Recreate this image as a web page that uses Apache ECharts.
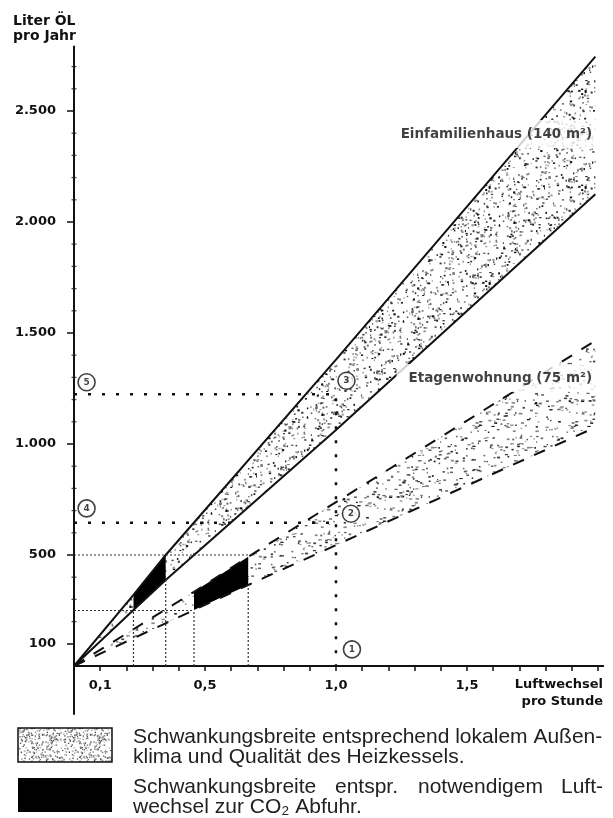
<!DOCTYPE html>
<html><head><meta charset="utf-8">
<script src="https://cdn.jsdelivr.net/npm/echarts@6/dist/echarts.min.js"></script>
<style>html,body{margin:0;padding:0;background:#fff}#c{width:613px;height:818px}</style>
</head><body><div id="c"></div>
<script>
// ---------- data ----------
const xTickValues = [0.1,0.2,0.3,0.4,0.5,0.6,0.7,0.8,0.9,1.0,1.1,1.2,1.3,1.4,1.5,1.6,1.7,1.8,1.9,2.0];
const xLabelValues = [0.1,0.5,1.0,1.5];
const yLabelValues = [100,500,1000,1500,2000,2500];
const yMinorTicks = [200,300,400,600,700,800,900,1100,1200,1300,1400,1600,1700,1800,1900,2100,2200,2300,2400,2600,2700];
// axis line extensions beyond the origin
const xAxisExtension = [[-0.21,0],[0,0]];
const yAxisExtension = [[0,-220],[0,0]];

// Einfamilienhaus (140 m²) band
const efhUpper = [[0,0],[0.227,320],[0.35,500],[1.0,1380],[1.99,2745]];
const efhLower = [[0,0],[0.227,252],[0.35,387],[1.0,1063],[1.99,2125]];
// Etagenwohnung (75 m²) band
const etwUpper = [[0,0],[0.458,334],[0.665,492],[1.99,1465]];
const etwLower = [[0,0],[0.458,252],[0.665,365],[1.99,1075]];
// CO2 ranges (black)
const efhBlack = [[0.227,252],[0.227,320],[0.35,500],[0.35,387]];
const etwBlack = [[0.458,252],[0.458,334],[0.665,492],[0.665,365]];
// reference lines
const refCoarse = [[[0,1224],[1.0,1224],[1.0,0]], [[0,645],[1.0,645]]];
const refFine = [[[0,500],[0.665,500]], [[0,250],[0.458,250]], [[0.227,0],[0.227,252]], [[0.35,0],[0.35,387]], [[0.458,0],[0.458,252]], [[0.665,0],[0.665,365]]];
// numbered markers
const markers = [[1.061,75,'1'],[1.057,686,'2'],[1.04,1285,'3'],[0.048,710,'4'],[0.048,1278,'5']];
// band labels
const bandLabels = [[2.008,2396,'Einfamilienhaus (140 m²)'],[2.008,1297,'Etagenwohnung (75 m²)']];

// ---------- textures ----------
function makeStipple(size, count, seed, colors, maxW, maxH) {
  const c = document.createElement('canvas');
  c.width = c.height = size;
  const ctx = c.getContext('2d');
  let s = seed;
  const nxt = () => (s = (s * 16807) % 2147483647) / 2147483647;
  for (let i = 0; i < count; i++) {
    const x = nxt() * size, y = nxt() * size;
    const w = 1 + nxt() * (maxW - 1), h = 1 + nxt() * (maxH - 1);
    ctx.fillStyle = colors[Math.floor(nxt() * colors.length)];
    ctx.fillRect(x, y, w, h);
    if (x + w > size) ctx.fillRect(x - size, y, w, h);
    if (y + h > size) ctx.fillRect(x, y - size, w, h);
  }
  return c;
}
const stippleDense = makeStipple(96, 470, 12345, ['#111','#333','#555','#777','#999'], 2.4, 2.2);
const stippleLight = makeStipple(96, 300, 777, ['#222','#444','#666','#888'], 3.4, 1.8);
const stippleLegend = makeStipple(48, 360, 4242, ['#444','#666','#888','#aaa'], 1.6, 1.6);

// ---------- series helpers ----------
function polySeries(points, fill, z) {
  return {
    type: 'custom', coordinateSystem: 'cartesian2d', z: z, silent: true, clip: true,
    data: [points[0]],
    renderItem: (params, api) => ({
      type: 'polygon',
      shape: { points: points.map(p => api.coord(p)) },
      style: { fill: fill, stroke: null }
    })
  };
}
function lineSeries(data, style, z, clip) {
  return { type: 'line', data: data, symbol: 'none', silent: true, z: z, lineStyle: style, animation: false, clip: clip !== false };
}

const series = [];
series.push(polySeries(efhUpper.concat(efhLower.slice().reverse()), { image: stippleDense, repeat: 'repeat' }, 1));
series.push(polySeries(etwUpper.concat(etwLower.slice().reverse()), { image: stippleLight, repeat: 'repeat' }, 1));
series.push(polySeries(efhBlack, '#000', 2));
series.push(polySeries(etwBlack, '#000', 2));
series.push(lineSeries(efhUpper, { color: '#111', width: 2 }, 3));
series.push(lineSeries(efhLower, { color: '#111', width: 2 }, 3));
series.push(lineSeries(etwUpper, { color: '#111', width: 2, type: [12, 11] }, 3));
series.push(lineSeries(etwLower, { color: '#111', width: 2, type: [12, 11] }, 3));
refCoarse.forEach(d => series.push(lineSeries(d, { color: '#111', width: 2.5, type: [3, 11] }, 4)));
refFine.forEach(d => series.push(lineSeries(d, { color: '#333', width: 1.2, type: [2, 2] }, 4)));
series.push(lineSeries(xAxisExtension, { color: '#111', width: 2 }, 5, false));
series.push(lineSeries(yAxisExtension, { color: '#111', width: 2 }, 5, false));
// minor y ticks
series.push({
  type: 'scatter', silent: true, z: 5, clip: false, symbol: 'rect', symbolSize: [5, 1.3],
  itemStyle: { color: '#222' },
  data: yMinorTicks.map(v => [0, v])
});
// band labels with white background
series.push({
  type: 'scatter', silent: true, z: 10, symbolSize: 0, clip: false,
  data: bandLabels.map(d => ({ value: [d[0], d[1]], name: d[2] })),
  label: {
    show: true, position: 'left', distance: 0, formatter: p => p.name,
    fontFamily: 'DejaVu Sans', fontWeight: 'bold', fontSize: 13.5, color: '#111',
    backgroundColor: '#fff', padding: [7, 8, 7, 12]
  }
});
// numbered circles
series.push({
  type: 'scatter', silent: true, z: 11, symbol: 'circle', symbolSize: 17, clip: false,
  itemStyle: { color: '#fff', borderColor: '#111', borderWidth: 1.6 },
  data: markers.map(m => ({ value: [m[0], m[1]], name: m[2] })),
  label: { show: true, position: 'inside', formatter: p => p.name, fontFamily: 'DejaVu Sans', fontWeight: 'bold', fontSize: 9, color: '#111' }
});

const fmtY = v => v >= 1000 ? (Math.floor(v / 1000) + '.' + String(v % 1000).padStart(3, '0')) : String(v);
const fmtX = v => v.toFixed(1).replace('.', ',');

const chart = echarts.init(document.getElementById('c'), null, { renderer: 'canvas' });
chart.setOption({
  animation: false,
  backgroundColor: '#fff',
  grid: { left: 74, right: 9.8, top: 46.6, bottom: 152, outerBoundsMode: 'none', containLabel: false },
  xAxis: {
    type: 'value', min: 0, max: 2.02,
    splitLine: { show: false },
    axisLine: { lineStyle: { color: '#111', width: 2 } },
    axisTick: { show: true, customValues: xTickValues, length: 5, lineStyle: { color: '#111', width: 1.5 } },
    axisLabel: { customValues: xLabelValues, formatter: fmtX, margin: 13, fontFamily: 'DejaVu Sans', fontWeight: 'bold', fontSize: 13, color: '#111' }
  },
  yAxis: {
    type: 'value', min: 0, max: 2790,
    splitLine: { show: false },
    axisLine: { lineStyle: { color: '#111', width: 2 } },
    axisTick: { show: true, customValues: yLabelValues, length: 7, lineStyle: { color: '#111', width: 1.5 } },
    axisLabel: { customValues: yLabelValues, formatter: fmtY, margin: 18, fontFamily: 'DejaVu Sans', fontWeight: 'bold', fontSize: 13, color: '#111' }
  },
  graphic: [
    { type: 'text', x: 13, y: 21, style: { text: 'Liter ÖL', font: 'bold 14px "DejaVu Sans"', fill: '#111', verticalAlign: 'middle', textVerticalAlign: 'middle' } },
    { type: 'text', x: 13, y: 36, style: { text: 'pro Jahr', font: 'bold 14px "DejaVu Sans"', fill: '#111', verticalAlign: 'middle', textVerticalAlign: 'middle' } },
    { type: 'text', x: 603, y: 685, style: { text: 'Luftwechsel', font: 'bold 13px "DejaVu Sans"', fill: '#111', align: 'right', textAlign: 'right', verticalAlign: 'middle', textVerticalAlign: 'middle' } },
    { type: 'text', x: 603, y: 702, style: { text: 'pro Stunde', font: 'bold 13px "DejaVu Sans"', fill: '#111', align: 'right', textAlign: 'right', verticalAlign: 'middle', textVerticalAlign: 'middle' } },
    { type: 'rect', shape: { x: 18, y: 728, width: 94, height: 34 }, style: { fill: { image: stippleLegend, repeat: 'repeat' }, stroke: '#111', lineWidth: 1.5 } },
    { type: 'rect', shape: { x: 18, y: 778, width: 94, height: 34 }, style: { fill: '#000' } },
    { type: 'text', x: 133, y: 737, style: { text: 'Schwankungsbreite entsprechend lokalem Außen-', font: '21px "Liberation Sans"', fill: '#222', verticalAlign: 'middle', textVerticalAlign: 'middle' } },
    { type: 'text', x: 133, y: 757, style: { text: 'klima und Qualität des Heizkessels.', font: '21px "Liberation Sans"', fill: '#222', verticalAlign: 'middle', textVerticalAlign: 'middle' } },
    { type: 'text', x: 133, y: 787, style: { text: 'Schwankungsbreite', font: '21px "Liberation Sans"', fill: '#222', verticalAlign: 'middle', textVerticalAlign: 'middle' } },
    { type: 'text', x: 335, y: 787, style: { text: 'entspr.', font: '21px "Liberation Sans"', fill: '#222', verticalAlign: 'middle', textVerticalAlign: 'middle' } },
    { type: 'text', x: 418, y: 787, style: { text: 'notwendigem', font: '21px "Liberation Sans"', fill: '#222', verticalAlign: 'middle', textVerticalAlign: 'middle' } },
    { type: 'text', x: 603, y: 787, style: { text: 'Luft-', font: '21px "Liberation Sans"', fill: '#222', align: 'right', textAlign: 'right', verticalAlign: 'middle', textVerticalAlign: 'middle' } },
    { type: 'text', x: 133, y: 807, style: { text: 'wechsel zur CO₂ Abfuhr.', font: '21px "Liberation Sans"', fill: '#222', verticalAlign: 'middle', textVerticalAlign: 'middle' } }
  ],
  series: series
});
</script></body></html>
